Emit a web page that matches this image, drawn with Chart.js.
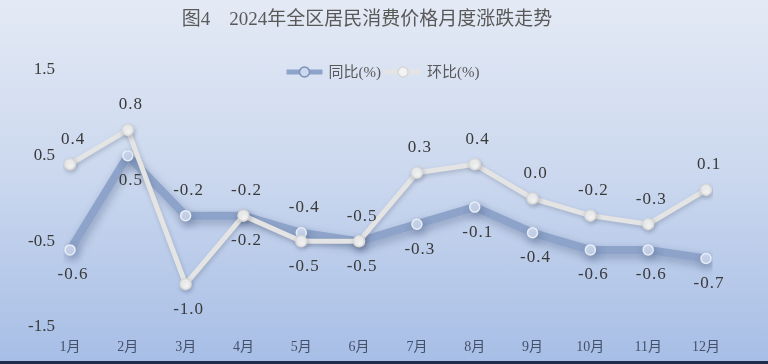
<!DOCTYPE html>
<html>
<head>
<meta charset="utf-8">
<script src="https://cdn.jsdelivr.net/npm/chart.js@4.4.1/dist/chart.umd.min.js"></script>
<style>
  html, body { margin: 0; padding: 0; }
  body { width: 768px; height: 364px; overflow: hidden; background: #1f2b4a; }
  #wrap {
    position: relative; width: 768px; height: 361px;
    background: linear-gradient(to bottom, #e4eaf5 0%, #cad7ee 50%, #a7bee6 100%);
  }
</style>
</head>
<body>
<div id="wrap"><canvas id="cpiChart"></canvas></div>
<script>
const months = ['1月', '2月', '3月', '4月', '5月', '6月', '7月', '8月', '9月', '10月', '11月', '12月'];
const yoyValues = [-0.6, 0.5, -0.2, -0.2, -0.4, -0.5, -0.3, -0.1, -0.4, -0.6, -0.6, -0.7];
const momValues = [0.4, 0.8, -1.0, -0.2, -0.5, -0.5, 0.3, 0.4, 0.0, -0.2, -0.3, 0.1];
const seriesNames = ['同比(%)', '环比(%)'];
const yTickValues = [-1.5, -0.5, 0.5, 1.5];
const chartTitle = '图4\u30002024年全区居民消费价格月度涨跌走势';

const serif = '"Liberation Serif", "Noto Sans CJK SC", serif';
const yoyColor = '#8ea3c9';
const momColor = '#e4e4e4';

// soft shadow under each line
const lineShadow = {
    id: 'lineShadow',
    beforeDatasetDraw(chart, args) {
        const ctx = chart.ctx;
        ctx.save();
        if (args.index === 0) {
            ctx.shadowColor = 'rgba(50, 70, 110, 0.35)';
            ctx.shadowBlur = 9;
            ctx.shadowOffsetX = 2;
            ctx.shadowOffsetY = 4;
        } else {
            ctx.shadowColor = 'rgba(60, 70, 90, 0.25)';
            ctx.shadowBlur = 4;
            ctx.shadowOffsetX = 1;
            ctx.shadowOffsetY = 2;
        }
    },
    afterDatasetDraw(chart) {
        chart.ctx.restore();
    }
};

// value labels: the higher series gets its label above, the lower one below
const valueLabels = {
    id: 'valueLabels',
    afterDatasetsDraw(chart) {
        const ctx = chart.ctx;
        ctx.save();
        ctx.font = '17px ' + serif;
        ctx.fillStyle = '#3a3a3a';
        ctx.textAlign = 'center';
        ctx.textBaseline = 'middle';
        ctx.letterSpacing = '1px';
        chart.data.datasets.forEach((ds, di) => {
            const meta = chart.getDatasetMeta(di);
            meta.data.forEach((pt, i) => {
                const other = chart.data.datasets[1 - di].data[i];
                const v = ds.data[i];
                const above = di === 0 ? v >= other : v > other;
                const y = pt.y + (above ? -25 : 25);
                ctx.fillText(v.toFixed(1), pt.x + 3, y);
            });
        });
        ctx.restore();
    }
};

// title and legend (legend sits on the top edge of the plot)
const titleLegend = {
    id: 'titleLegend',
    afterDraw(chart) {
        const ctx = chart.ctx;
        const area = chart.chartArea;
        ctx.save();
        ctx.font = '19px ' + serif;
        ctx.fillStyle = '#595959';
        ctx.textAlign = 'center';
        ctx.textBaseline = 'middle';
        ctx.fillText(chartTitle, 367, 20);

        ctx.font = '15px ' + serif;
        ctx.textAlign = 'left';
        const colors = [yoyColor, momColor];
        const fills = ['#cbd8ee', '#f3f3f3'];
        const iconW = 36, gap = 6, itemGap = 4;
        const widths = seriesNames.map(n => ctx.measureText(n).width);
        const total = widths.reduce((a, w) => a + iconW + gap + w, 0) + itemGap;
        let x = (area.left + area.right) / 2 - 5 - total / 2;
        const y = area.top + 2;
        seriesNames.forEach((name, i) => {
            ctx.strokeStyle = colors[i];
            ctx.lineWidth = 5;
            ctx.beginPath();
            ctx.moveTo(x, y);
            ctx.lineTo(x + iconW, y);
            ctx.stroke();
            ctx.beginPath();
            ctx.arc(x + iconW / 2, y, 5, 0, Math.PI * 2);
            ctx.fillStyle = fills[i];
            ctx.fill();
            ctx.lineWidth = 1.5;
            ctx.strokeStyle = i === 0 ? '#7b90b8' : '#d6d6d6';
            ctx.stroke();
            ctx.fillStyle = '#595959';
            ctx.fillText(name, x + iconW + gap, y + 1);
            x += iconW + gap + widths[i] + itemGap;
        });
        ctx.restore();
    }
};

document.addEventListener('DOMContentLoaded', function() {
    const ctx = document.getElementById('cpiChart').getContext('2d');
    new Chart(ctx, {
        type: 'line',
        data: {
            labels: months,
            datasets: [
                {
                    label: seriesNames[0],
                    data: yoyValues,
                    borderColor: yoyColor,
                    borderWidth: 8,
                    pointRadius: 5,
                    pointBackgroundColor: '#cbd8ee',
                    pointBorderColor: '#e8edf7',
                    pointBorderWidth: 1.5,
                    tension: 0,
                    order: 1
                },
                {
                    label: seriesNames[1],
                    data: momValues,
                    borderColor: momColor,
                    borderWidth: 5,
                    pointRadius: 5.5,
                    pointBackgroundColor: '#f5f5f5',
                    pointBorderColor: '#d8d8d8',
                    pointBorderWidth: 1.5,
                    tension: 0,
                    order: 0
                }
            ]
        },
        options: {
            responsive: true,
            maintainAspectRatio: false,
            animation: false,
            layout: { padding: { left: 0, right: 62, top: 70, bottom: 0 } },
            plugins: {
                legend: { display: false },
                title: { display: false },
                tooltip: { enabled: false }
            },
            scales: {
                x: {
                    offset: false,
                    grid: { display: false },
                    border: { display: false },
                    ticks: {
                        color: '#44506a',
                        font: { family: serif, size: 14 },
                        padding: 4,
                        maxRotation: 0
                    },
                    afterFit(scale) { scale.height = 34; }
                },
                y: {
                    min: -1.5,
                    max: 1.5,
                    grid: { display: false },
                    border: { display: false },
                    afterBuildTicks(scale) {
                        scale.ticks = yTickValues.map(v => ({ value: v }));
                    },
                    ticks: {
                        color: '#3a3a3a',
                        font: { family: serif, size: 17 },
                        padding: 7,
                        callback: v => v.toFixed(1)
                    },
                    afterFit(scale) { scale.width = 70; }
                }
            }
        },
        plugins: [lineShadow, valueLabels, titleLegend]
    });
});
</script>
</body>
</html>
